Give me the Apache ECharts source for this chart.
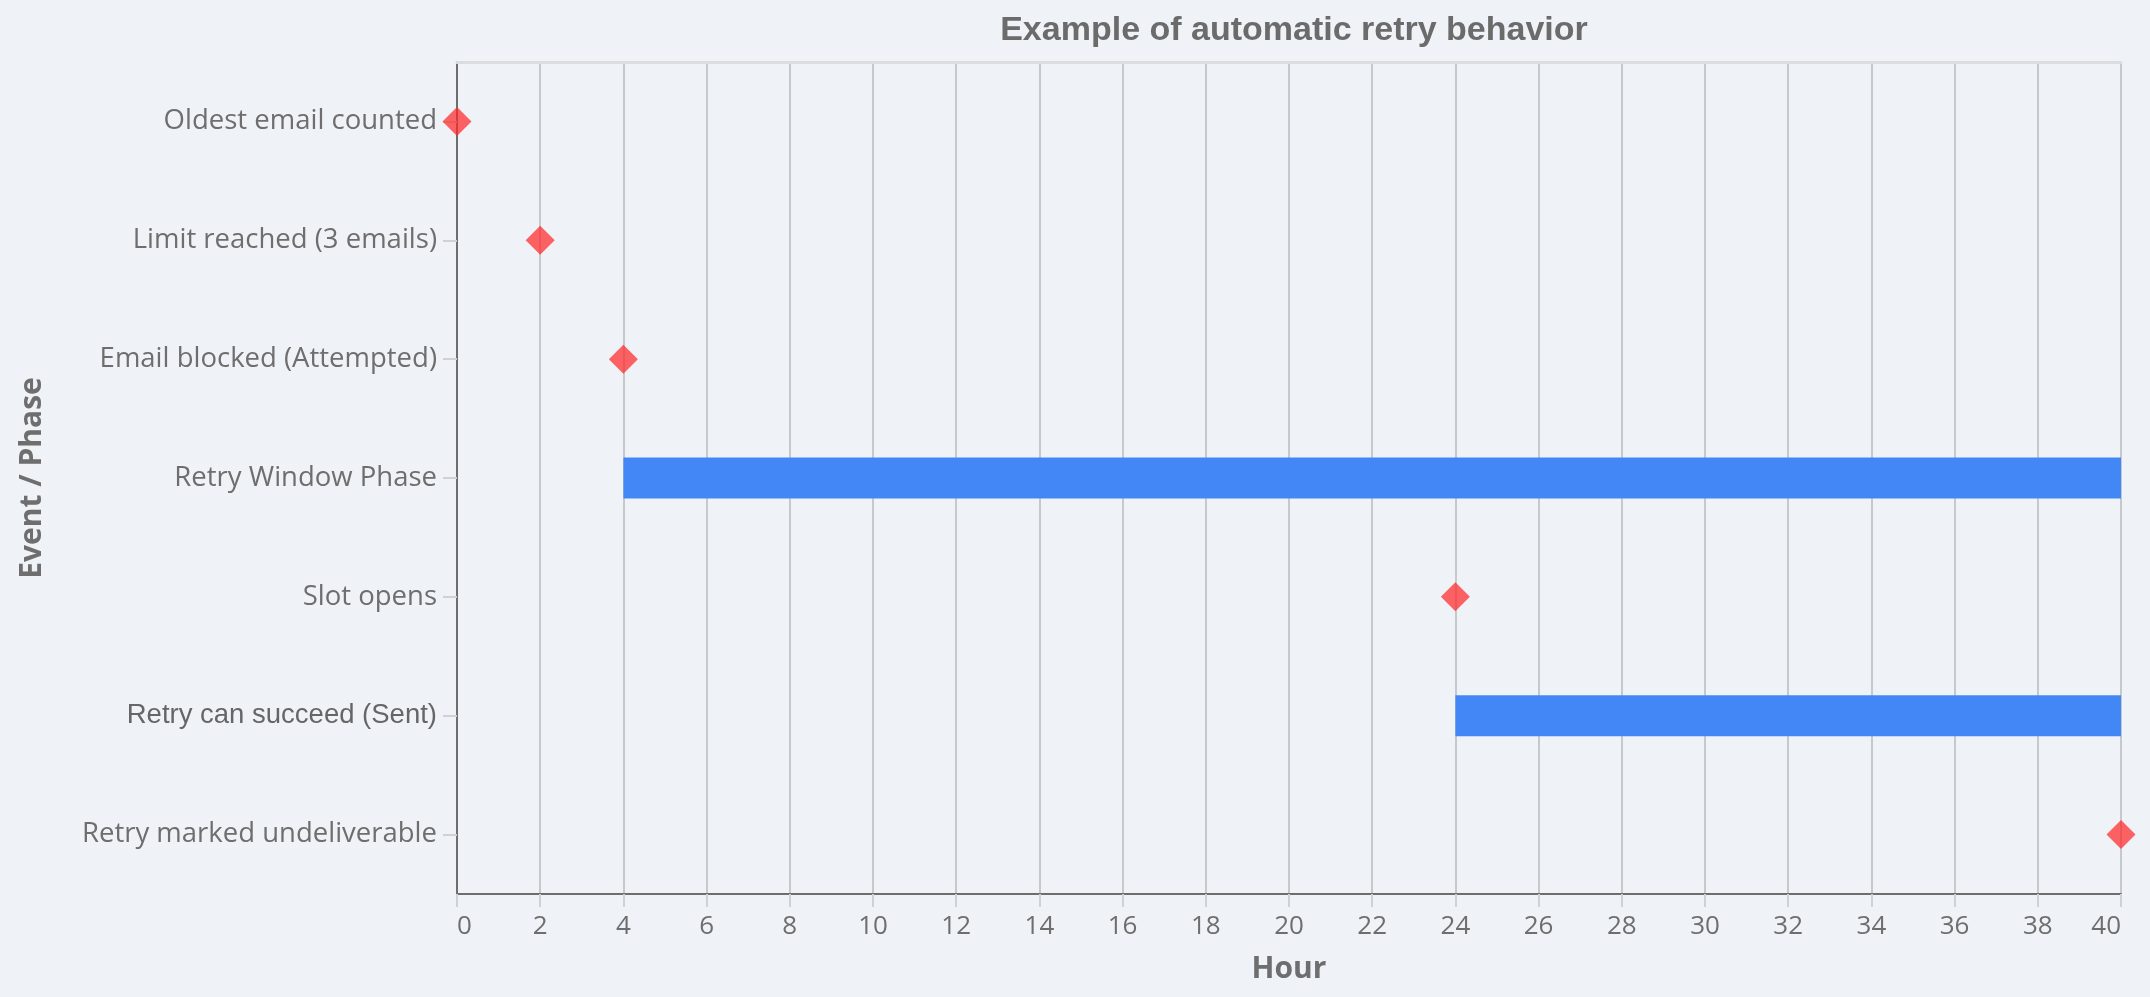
<!DOCTYPE html>
<html>
<head>
<meta charset="utf-8">
<script src="https://cdn.jsdelivr.net/npm/echarts@6/dist/echarts.min.js"></script>
<style>
html,body{margin:0;padding:0;background:#eff3f8;}
#chart{width:2150px;height:997px;}
</style>
</head>
<body>
<div id="chart"></div>
<script>
const categories = [
  'Oldest email counted',
  'Limit reached (3 emails)',
  'Email blocked (Attempted)',
  'Retry Window Phase',
  'Slot opens',
  'Retry can succeed (Sent)',
  'Retry marked undeliverable'
];
// point events (hour) — null where the row is a phase
const eventHours = [0, 2, 4, null, 24, null, 40];
// phases (start/end hour) — null where the row is an event
const phaseStart = [null, null, null, 4, null, 24, null];
const phaseEnd   = [null, null, null, 40, null, 40, null];
const xTicks = {min: 0, max: 40, interval: 2};

const textGray = '#6e6e6e';

const baseData = phaseStart.map(v => v == null ? '-' : v);
const durData = phaseStart.map((v, i) => v == null ? '-' : phaseEnd[i] - v);
const pointData = [];
eventHours.forEach((h, i) => { if (h != null) pointData.push([h, categories[i]]); });

const chart = echarts.init(document.getElementById('chart'));
chart.setOption({
  backgroundColor: '#eff3f8',
  animation: false,
  title: {
    text: 'Example of automatic retry behavior',
    left: 1289, top: 9, textAlign: 'center',
    textStyle: {fontFamily: 'Liberation Sans', fontWeight: 'bold', fontSize: 34, color: '#6b6b6b'}
  },
  grid: {left: 457, right: 29, top: 62, bottom: 103, containLabel: false, outerBoundsMode: 'none'},
  xAxis: [{
    type: 'value', min: xTicks.min, max: xTicks.max, interval: xTicks.interval,
    name: 'Hour', nameLocation: 'middle', nameGap: 60,
    nameTextStyle: {fontFamily: 'Open Sans', fontWeight: 'bold', fontSize: 30, color: textGray},
    axisLine: {show: true, lineStyle: {color: '#6e6e6e', width: 2}},
    axisTick: {show: true, length: 13, lineStyle: {color: '#cfd2d5', width: 2}},
    axisLabel: {margin: 20, fontFamily: 'Open Sans', fontSize: 26, color: textGray,
      alignMinLabel: 'left', alignMaxLabel: 'right'},
    splitLine: {show: true, lineStyle: {color: '#c6c9cc', width: 2}}
  }, {
    type: 'value', position: 'top', min: xTicks.min, max: xTicks.max,
    axisLine: {show: true, lineStyle: {color: '#dcdddf', width: 3}},
    axisTick: {show: false}, axisLabel: {show: false}, splitLine: {show: false}
  }],
  yAxis: {
    type: 'category', data: categories, inverse: true,
    name: 'Event / Phase', nameLocation: 'middle', nameGap: 410,
    nameTextStyle: {fontFamily: 'Open Sans', fontWeight: 'bold', fontSize: 30, color: textGray},
    axisLine: {show: true, lineStyle: {color: '#6e6e6e', width: 2}},
    axisTick: {show: true, alignWithLabel: true, length: 14, lineStyle: {color: '#cfd2d5', width: 2}},
    axisLabel: {
      margin: 20, fontFamily: 'Open Sans', fontSize: 27.5, color: textGray,
      formatter: v => v === 'Retry can succeed (Sent)' ? '{sent|' + v + '}' : v,
      rich: {sent: {fontFamily: 'Liberation Sans', fontSize: 27.5, color: '#666666'}}
    },
    splitLine: {show: false}
  },
  series: [{
    type: 'bar', stack: 'phase', data: baseData, barWidth: 41,
    itemStyle: {color: 'transparent'}, silent: true
  }, {
    type: 'bar', stack: 'phase', data: durData, barWidth: 41,
    itemStyle: {color: '#4287f5'}
  }, {
    type: 'scatter', data: pointData, symbol: 'diamond', symbolSize: 29, clip: false,
    itemStyle: {color: 'rgba(255,40,40,0.9)'}, z: 5
  }]
});
</script>
</body>
</html>
